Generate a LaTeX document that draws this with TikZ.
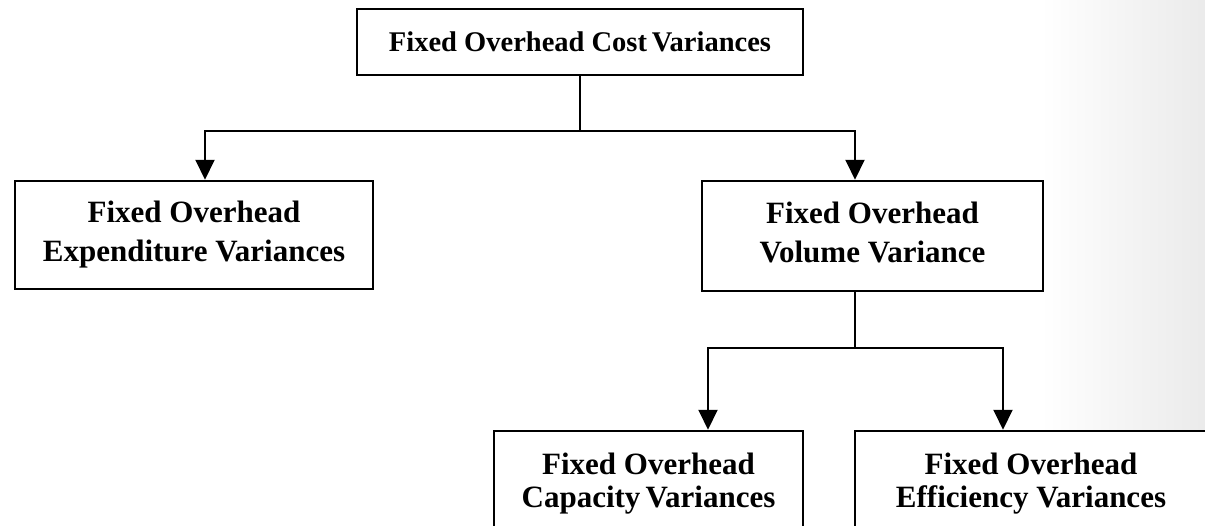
\documentclass[tikz,border=0pt]{standalone}
\usepackage{fontspec}
\setmainfont{Liberation Serif}
\usetikzlibrary{arrows.meta}
\begin{document}
\begin{tikzpicture}[x=1pt,y=-1pt,
  box/.style={draw=black,line width=2.5pt,fill=white,align=center,inner sep=0pt,font=\fontsize{31}{39}\selectfont\bfseries},
  lowbox/.style={box,font=\fontsize{31}{33}\selectfont\bfseries},
  link/.style={draw=black,line width=2pt},
  arr/.style={link,-{Triangle[length=20pt,width=19pt]}}]
\clip (0,0) rectangle (1205,525);
\fill[white] (0,0) rectangle (1205,525);
\shade[left color=white,right color=black!8] (1040,0) rectangle (1205,525);
\node[box,minimum width=446pt,minimum height=66pt,font=\fontsize{28.5}{34}\selectfont\bfseries] (top) at (580,42) {Fixed Overhead Cost\,Variances};
\node[box,minimum width=358pt,minimum height=108pt] (left) at (194,235) {Fixed Overhead\\Expenditure Variances};
\node[box,minimum width=341pt,minimum height=110pt] (mid) at (872.5,236) {Fixed Overhead\\Volume Variance\vphantom{p}};
\node[lowbox,minimum width=309pt,minimum height=105pt] (cap) at (648.5,483.5) {Fixed Overhead\\Capacity\,Variances};
\node[lowbox,minimum width=352pt,minimum height=105pt] (eff) at (1031,483.5) {Fixed Overhead\\Efficiency Variances};
\coordinate (j1) at (580,131);
\coordinate (j2) at (855,348);
\draw[link] (top.south) -- (j1);
\draw[arr] (j1) -| ([xshift=11pt]left.north);
\draw[arr] (j1) -| ([xshift=-17.5pt]mid.north);
\draw[link] ([xshift=-17.5pt]mid.south) -- (j2);
\draw[arr] (j2) -| ([xshift=59.5pt]cap.north);
\draw[arr] (j2) -| ([xshift=-28pt]eff.north);
\end{tikzpicture}
\end{document}
